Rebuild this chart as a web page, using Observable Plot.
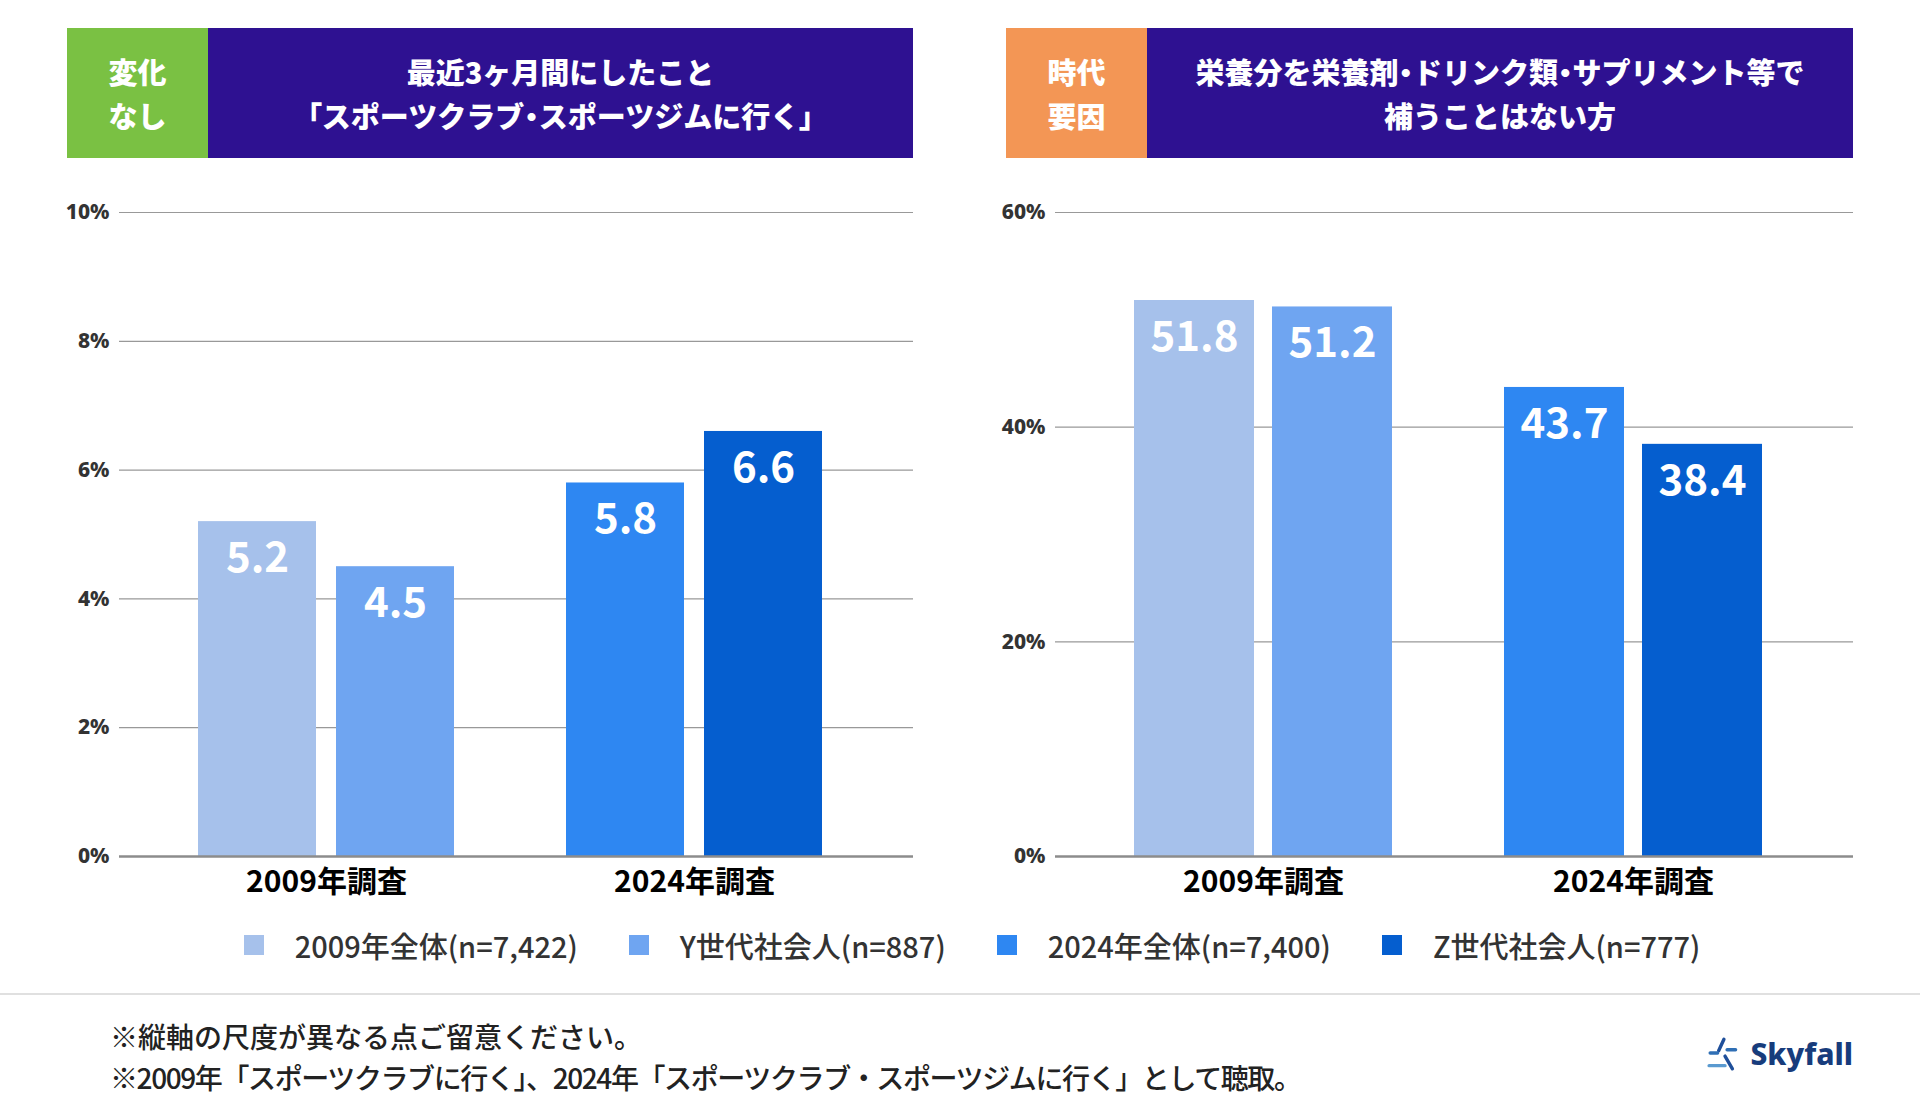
<!DOCTYPE html>
<html><head><meta charset="utf-8">
<script src="https://cdn.jsdelivr.net/npm/d3@7"></script>
<script src="https://cdn.jsdelivr.net/npm/@observablehq/plot@0.6"></script>
<style>
body{margin:0;width:1920px;height:1112px;position:relative;background:#fff;font-family:"Noto Sans CJK JP",sans-serif;overflow:hidden}
.box{position:absolute;top:28px;height:130px;display:flex;align-items:center;justify-content:center;color:#fff;font-weight:900;font-size:29px;line-height:44px;text-align:center}
.tag{width:141px}
.ttl{background:#2e1191}
.p{font-feature-settings:"palt"}
.chart{position:absolute;top:180px}
#legend{position:absolute;top:922px;left:12px;width:1920px;display:flex;justify-content:center;gap:51px;font-size:29px;font-weight:500;color:#333;line-height:46px}
#legend .it{display:flex;align-items:center}
#legend .sw{width:20px;height:20px;margin-right:31px}
#sep{position:absolute;left:0;top:993px;width:1920px;height:2px;background:#e0e0e0}
#notes{position:absolute;left:110px;top:1016px;font-size:28px;font-weight:500;color:#222;line-height:41px;white-space:nowrap}
#notes .l2{letter-spacing:-1.4px}
#logo{position:absolute;right:67px;top:1033px;display:flex;align-items:center;gap:6px;font-family:"Noto Sans",sans-serif;font-weight:800;font-size:30px;color:#173c7c}
</style></head><body>
<div class="box tag" id="tagL" style="left:67px;background:#7ac143">変化<br>なし</div>
<div class="box ttl" id="ttlL" style="left:208px;width:705px"><div>最近3ヶ月間にしたこと<br><span class="p">「</span>スポーツクラブ<span class="p">・</span>スポーツジムに行く<span class="p">」</span></div></div>
<div class="box tag" id="tagR" style="left:1006px;background:#f39655">時代<br>要因</div>
<div class="box ttl" id="ttlR" style="left:1147px;width:706px"><div>栄養分を栄養剤<span class="p">・</span>ドリンク類<span class="p">・</span>サプリメント等で<br>補うことはない方</div></div>
<div class="chart" id="left" style="left:0"></div>
<div class="chart" id="right" style="left:960px"></div>
<div id="legend"></div>
<div id="sep"></div>
<div id="notes"><div>※縦軸の尺度が異なる点ご留意ください。</div><div class="l2">※2009年「スポーツクラブに行く」、2024年「スポーツクラブ・スポーツジムに行く」として聴取。</div></div>
<div id="logo"><svg width="38" height="36" viewBox="0 0 34 34"><g stroke-linecap="round" stroke-width="3.2" fill="none"><line x1="16" y1="3" x2="11" y2="14" stroke="#1f4f9a"/><line x1="3" y1="16" x2="10" y2="16" stroke="#2f6fb5"/><line x1="17" y1="19" x2="24" y2="31" stroke="#1f4f9a"/><line x1="2" y1="28" x2="17" y2="28" stroke="#5a9ad0"/><line x1="19" y1="13" x2="27" y2="13" stroke="#2f6fb5"/></g></svg><span>Skyfall</span></div>
<script>
const surveys = ["2009年調査", "2024年調査"];
const seriesNames = ["2009年全体(n=7,422)", "Y世代社会人(n=887)", "2024年全体(n=7,400)", "Z世代社会人(n=777)"];
const seriesColors = ["#a6c1eb", "#6fa5f1", "#2e87f2", "#055ecf"];
const sportsValues = [5.2, 4.5, 5.8, 6.6];
const supplementValues = [51.8, 51.2, 43.7, 38.4];
const sportsTicks = [0, 2, 4, 6, 8, 10];
const supplementTicks = [0, 20, 40, 60];

function chart(values, ticks, ml, mr) {
  const rows = values.map((v, i) => ({survey: surveys[Math.floor(i / 2)], slot: i % 2, series: seriesNames[i], value: v}));
  const first = rows.filter(d => d.slot === 0);
  const second = rows.filter(d => d.slot === 1);
  const fmt = d => d.value.toFixed(1);
  return Plot.plot({
    width: 960, height: 726, marginTop: 32, marginBottom: 50, marginLeft: ml, marginRight: mr,
    style: {fontFamily: '"Noto Sans CJK JP", sans-serif', background: "transparent", overflow: "visible"},
    x: {domain: surveys, paddingInner: 0.3035, paddingOuter: 0.23, align: 0.465, label: null},
    y: {domain: [0, ticks[ticks.length - 1]], label: null},
    color: {domain: seriesNames, range: seriesColors},
    marks: [
      Plot.ruleY(ticks.filter(t => t > 0), {stroke: "#999", strokeWidth: 1.2}),
      Plot.barY(first, {x: "survey", y: "value", fill: "series", insetRight: 138}),
      Plot.barY(second, {x: "survey", y: "value", fill: "series", insetLeft: 138}),
      Plot.ruleY([0], {stroke: "#8c8c8c", strokeWidth: 2.5}),
      Plot.text(first, {x: "survey", y: "value", text: fmt, dx: -69, dy: 37, fill: "white", fontSize: 42, fontWeight: 700}),
      Plot.text(second, {x: "survey", y: "value", text: fmt, dx: 69, dy: 37, fill: "white", fontSize: 42, fontWeight: 700}),
      Plot.axisY({ticks, tickFormat: d => d + "%", tickSize: 0, tickPadding: 10, fontSize: 21, fontWeight: 800, fill: "#333", fontFamily: '"Noto Sans", sans-serif', label: null}),
      Plot.axisX({tickSize: 0, tickPadding: 14, fontSize: 30, fontWeight: 700, fill: "#000", label: null})
    ]
  });
}

document.getElementById("left").append(chart(sportsValues, sportsTicks, 119, 47));
document.getElementById("right").append(chart(supplementValues, supplementTicks, 95, 67));

const legend = document.getElementById("legend");
seriesNames.forEach((name, i) => {
  const it = document.createElement("div");
  it.className = "it";
  const sw = document.createElement("div");
  sw.className = "sw";
  sw.style.background = seriesColors[i];
  const tx = document.createElement("span");
  tx.textContent = name;
  it.append(sw, tx);
  legend.append(it);
});
</script>
</body></html>
